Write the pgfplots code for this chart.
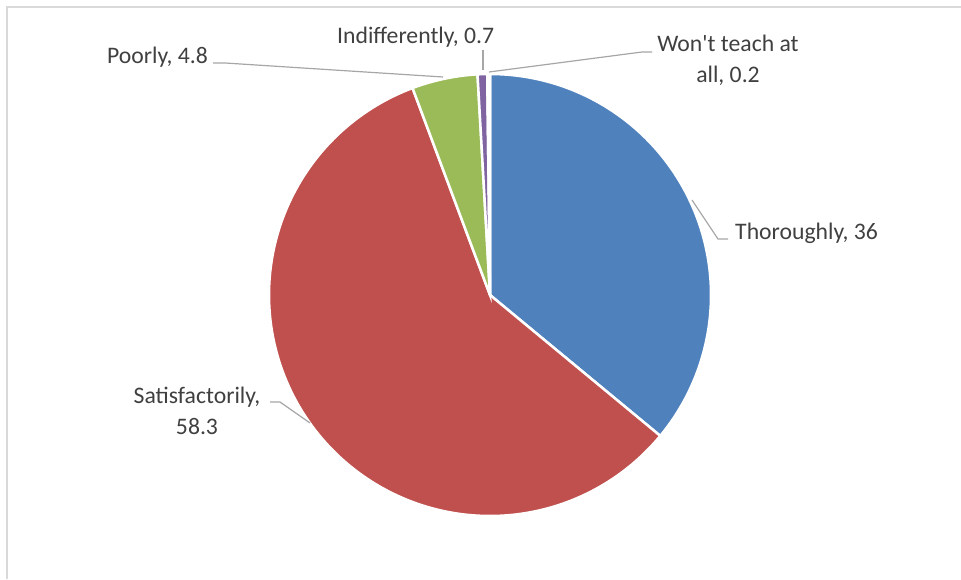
\documentclass[border=0pt]{standalone}
\usepackage{pgfplots}
\pgfplotsset{compat=1.18}
\usepackage{fontspec}
\setmainfont{Carlito}[Ligatures=TeXOff]
\definecolor{cT}{HTML}{4F81BD}
\definecolor{cS}{HTML}{C0504D}
\definecolor{cP}{HTML}{9BBB59}
\definecolor{cI}{HTML}{8064A2}
\definecolor{cW}{HTML}{4BACC6}
\definecolor{lead}{HTML}{A6A6A6}
\definecolor{lab}{HTML}{404040}
\definecolor{frame}{HTML}{D9D9D9}
% values (percent)
\def\vT{36}
\def\vS{58.3}
\def\vP{4.8}
\def\vI{0.7}
\def\vW{0.2}
\tikzset{lbl/.style={font=\fontsize{23.7}{31}\selectfont,text=lab,inner sep=0pt}}
\begin{document}
\begin{tikzpicture}
\pgfmathsetmacro\aA{90}
\pgfmathsetmacro\aB{\aA-3.6*\vT}
\pgfmathsetmacro\aC{\aB-3.6*\vS}
\pgfmathsetmacro\aD{\aC-3.6*\vP}
\pgfmathsetmacro\aE{\aD-3.6*\vI}
\pgfmathsetmacro\aF{\aE-3.6*\vW}
\begin{axis}[width=961pt,height=579pt,scale only axis,
  xmin=0,xmax=961,ymin=0,ymax=579,hide axis,clip=false]
\addplot[draw=frame,line width=1.5pt] coordinates {(7,0) (7,572) (961,572)};
\addplot[fill=cT,draw=white,line width=2.5pt,domain=\aB:\aA,samples=120] ({490+221*cos(x)},{284+221*sin(x)}) -- (axis cs:490,284) -- cycle;
\addplot[fill=cS,draw=white,line width=2.5pt,domain=\aC:\aB,samples=180] ({490+221*cos(x)},{284+221*sin(x)}) -- (axis cs:490,284) -- cycle;
\addplot[fill=cP,draw=white,line width=2.5pt,domain=\aD:\aC,samples=20] ({490+221*cos(x)},{284+221*sin(x)}) -- (axis cs:490,284) -- cycle;
\addplot[fill=cI,draw=white,line width=2.5pt,domain=\aE:\aD,samples=5] ({490+221*cos(x)},{284+221*sin(x)}) -- (axis cs:490,284) -- cycle;
\addplot[fill=cW,draw=white,line width=2.5pt,domain=\aF:\aE,samples=3] ({490+221*cos(x)},{284+221*sin(x)}) -- (axis cs:490,284) -- cycle;
% leader lines
\addplot[draw=lead,line width=1.2pt] coordinates {(213,516) (225,516) (443,502)};
\addplot[draw=lead,line width=1.2pt] coordinates {(483,529) (483,509)};
\addplot[draw=lead,line width=1.2pt] coordinates {(489,507) (642,527) (652,527)};
\addplot[draw=lead,line width=1.2pt] coordinates {(692,379) (718,340) (728,340)};
\addplot[draw=lead,line width=1.2pt] coordinates {(270,177) (280,177) (310,156)};
% labels
\node[lbl,anchor=west] at (axis cs:107,522) {Poorly, 4.8};
\node[lbl,anchor=west] at (axis cs:337,542) {Indifferently, 0.7};
\node[lbl,align=center] at (axis cs:728,518.5) {Won't teach at\\all, 0.2};
\node[lbl,anchor=west] at (axis cs:735,346) {Thoroughly, 36};
\node[lbl,align=center] at (axis cs:197,168.5) {Satisfactorily,\\58.3};
\end{axis}
\pgfresetboundingbox
\path[use as bounding box] (0,0) rectangle (961pt,579pt);
\end{tikzpicture}
\end{document}
